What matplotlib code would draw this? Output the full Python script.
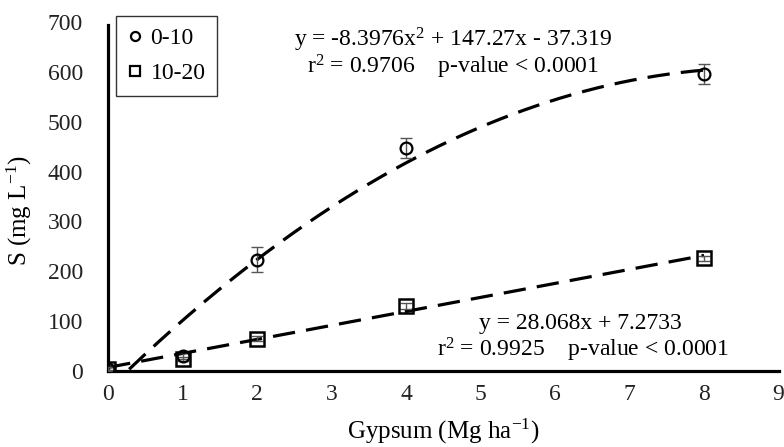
import numpy as np
import matplotlib
matplotlib.use("Agg")
import matplotlib.pyplot as plt

plt.rcParams['font.family'] = ['Liberation Serif', 'DejaVu Serif']
plt.rcParams['mathtext.fontset'] = 'custom'
plt.rcParams['mathtext.rm'] = 'Liberation Serif'

# gypsum rates (Mg/ha)
doses = [0, 1, 2, 4, 8]
# sulfur by depth (mg/L)
s_0_10 = [5, 30, 223, 447, 596]
err_0_10 = [4, 6, 25, 20, 20]
s_10_20 = [5, 25, 65, 130, 226]
err_10_20 = [3, 4, 5, 6, 5]

# fitted equations shown on the chart
quad_coef = [-8.3976, 147.27, -37.319]
lin_coef = [28.068, 7.2733]

fs = 17

fig = plt.figure(figsize=(7.84, 4.47), dpi=100)
ax = fig.add_axes([0.138, 0.170, 0.855, 0.781])

xq = np.linspace(0, 8, 200)
yq = np.polyval(quad_coef, xq)
xq, yq = xq[yq >= 0], yq[yq >= 0]
ax.plot(xq, yq, color='black', lw=2.3, dashes=(7, 3.5), zorder=2)
xl = np.linspace(0, 8, 50)
ax.plot(xl, np.polyval(lin_coef, xl), color='black', lw=2.3, dashes=(7, 3.5), zorder=2)

ax.errorbar(doses, s_0_10, yerr=err_0_10, fmt='none', ecolor='#555555', elinewidth=1, capsize=4, zorder=3)
ax.errorbar(doses, s_10_20, yerr=err_10_20, fmt='none', ecolor='#555555', elinewidth=1, capsize=4, zorder=3)
ax.plot(doses, s_0_10, 'o', ms=8.5, mfc='none', mec='black', mew=1.6, label='0-10', zorder=4)
ax.plot(doses, s_10_20, 's', ms=9.5, mfc='none', mec='black', mew=1.8, label='10-20', zorder=4)

ax.set_xlim(0, 9)
ax.set_ylim(0, 700)
ax.set_xticks(range(10))
ax.set_yticks(range(0, 701, 100))
ax.tick_params(length=0, labelsize=fs, colors='#222222')
ax.tick_params(axis='y', pad=18)
ax.tick_params(axis='x', pad=9)
for side in ['top', 'right']:
    ax.spines[side].set_visible(False)
for side in ['left', 'bottom']:
    ax.spines[side].set_linewidth(2.3)
ax.spines['left'].set_bounds(0, 693)

ax.set_xlabel('Gypsum (Mg ha$\\mathregular{^{-1}}$)', fontsize=18)
ax.xaxis.set_label_coords(0.5, -0.13)
ax.set_ylabel('S (mg L$\\mathregular{^{-1}}$)', fontsize=18)
ax.yaxis.set_label_coords(-0.11, 0.46)

ax.text(4.63, 663, 'y = -8.3976x$\\mathregular{^2}$ + 147.27x - 37.319', fontsize=fs, ha='center', va='center')
ax.text(4.63, 609, 'r$\\mathregular{^2}$ = 0.9706    p-value < 0.0001', fontsize=fs, ha='center', va='center')
ax.text(6.34, 96, 'y = 28.068x + 7.2733', fontsize=fs, ha='center', va='center')
ax.text(6.37, 42, 'r$\\mathregular{^2}$ = 0.9925    p-value < 0.0001', fontsize=fs, ha='center', va='center')

leg = ax.legend(loc='upper left', bbox_to_anchor=(0.012, 1.017), fontsize=fs, frameon=True, fancybox=False,
                edgecolor='black', handlelength=0.6, handletextpad=0.35, borderpad=0.5, labelspacing=0.55,
                borderaxespad=0)
leg.get_frame().set_linewidth(1)
for h in leg.legend_handles:
    h.set_markersize(6.5)
    h.set_markeredgewidth(1.6)

fig.savefig('out.png', dpi=100)
